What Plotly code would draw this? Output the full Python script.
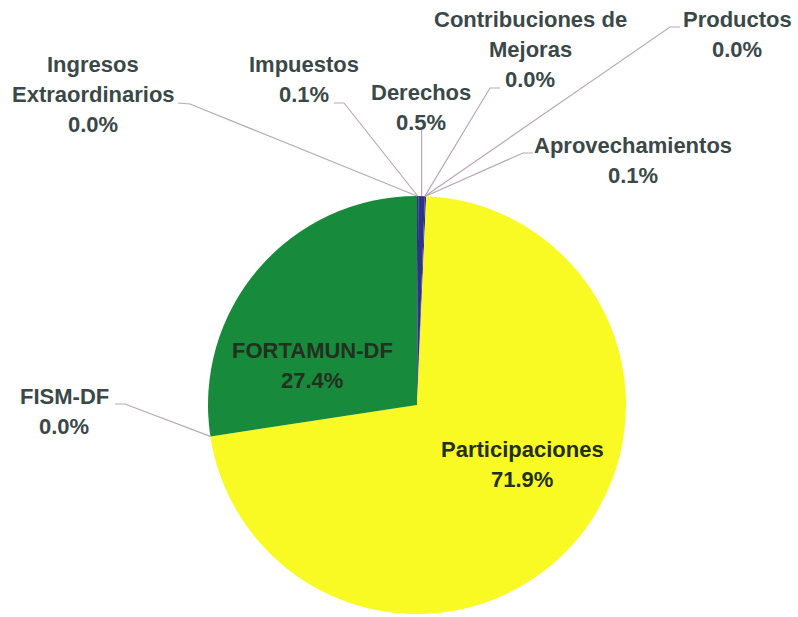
import math
import plotly.graph_objects as go

# ---- data ----
categories = ["Impuestos", "Derechos", "Contribuciones de Mejoras", "Productos",
              "Aprovechamientos", "Participaciones", "FISM-DF", "FORTAMUN-DF",
              "Ingresos Extraordinarios"]
label_lines = [["Impuestos"], ["Derechos"], ["Contribuciones de", "Mejoras"], ["Productos"],
               ["Aprovechamientos"], ["Participaciones"], ["FISM-DF"], ["FORTAMUN-DF"],
               ["Ingresos", "Extraordinarios"]]
values = [0.1, 0.5, 0.0, 0.0, 0.1, 71.9, 0.0, 27.4, 0.0]
colors = ["#2E3388", "#2E3388", "#2E3388", "#2E3388", "#2E3388",
          "#F9F924", "#178A3C", "#178A3C", "#178A3C"]

# ---- layout (pixels) ----
W, H = 798, 617
CX, CY, R = 417, 405, 209
FONT = "Liberation Sans, Arial, sans-serif"
OUT_COLOR = "#3B4848"
IN_COLOR = "#24301F"
LINE_COLOR = "#B9A8B8"

# label block centres (px) and leader path points (px, label side first), inside flag
label_pos = {
    "Impuestos": (304, 80, [(334, 103), (344, 103)], False),
    "Derechos": (421, 107, [(421.6, 130)], False),
    "Contribuciones de Mejoras": (530, 49, [(500, 88), (490, 88)], False),
    "Productos": (737, 34, [(680, 27), (670, 27)], False),
    "Aprovechamientos": (633, 160, [(533, 153), (523, 153)], False),
    "Participaciones": (522, 464, None, True),
    "FISM-DF": (64, 411, [(115, 404), (125, 404)], False),
    "FORTAMUN-DF": (312, 365, None, True),
    "Ingresos Extraordinarios": (93, 95, [(178, 103), (190, 104)], False),
}

px2x = lambda x: x / W
px2y = lambda y: 1 - y / H

fig = go.Figure(go.Pie(
    labels=categories, values=values, sort=False, direction="clockwise", rotation=0,
    marker=dict(colors=colors, line=dict(width=0)), textinfo="none", hoverinfo="label+percent",
    domain=dict(x=[px2x(CX - R), px2x(CX + R)], y=[px2y(CY + R), px2y(CY - R)]),
    showlegend=False,
))

total = sum(values)
cum = 0.0
annotations, shapes = [], []
for name, lines, v in zip(categories, label_lines, values):
    mid = (cum + v / 2) / total * 2 * math.pi
    cum += v
    tipx = CX + R * math.sin(mid)
    tipy = CY - R * math.cos(mid)
    bx, by, path, inside = label_pos[name]
    txt = lines + [f"{v / total * 100:.1f}%"]
    n = len(txt)
    for i, t in enumerate(txt):
        annotations.append(dict(
            x=px2x(bx), y=px2y(by + (i - (n - 1) / 2) * 30), xref="paper", yref="paper",
            text=f"<b>{t}</b>", showarrow=False, xanchor="center", yanchor="middle",
            font=dict(family=FONT, size=22, color=IN_COLOR if inside else OUT_COLOR),
        ))
    if path:
        pts = path + [(tipx, tipy)]
        d = "M " + " L ".join(f"{px2x(x):.5f},{px2y(y):.5f}" for x, y in pts)
        shapes.append(dict(type="path", path=d, xref="paper", yref="paper",
                           line=dict(color=LINE_COLOR, width=1.2)))

fig.update_layout(
    width=W, height=H, margin=dict(l=0, r=0, t=0, b=0),
    paper_bgcolor="white", plot_bgcolor="white",
    annotations=annotations, shapes=shapes,
)
fig.write_html("out.html", config={"displayModeBar": False},
               post_script="document.body.style.margin='0';")
